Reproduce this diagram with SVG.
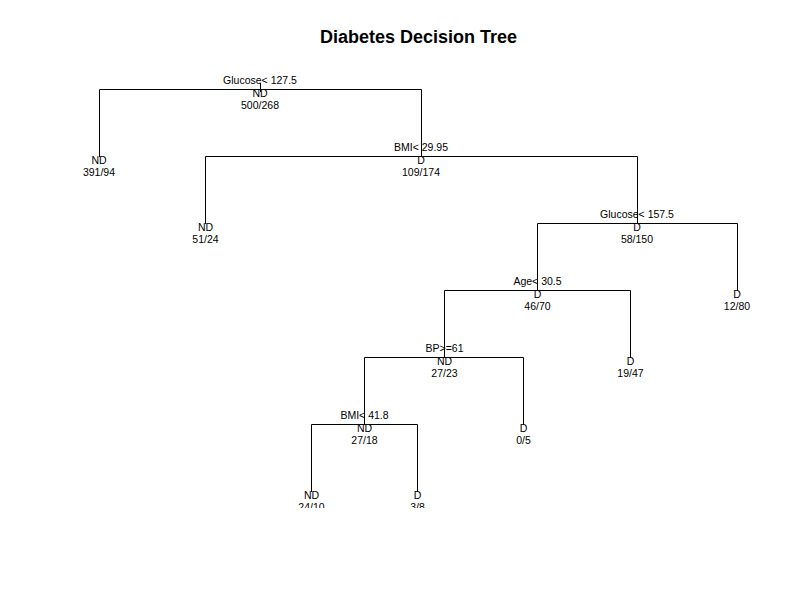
<svg xmlns="http://www.w3.org/2000/svg" width="800" height="600" viewBox="0 0 800 600">
<style>
text{font-family:"Liberation Sans",Arial,Helvetica,sans-serif;font-size:10.5px;fill:#000;text-anchor:middle}
.title{font-size:18px;font-weight:bold}
.br{fill:none;stroke:#000;stroke-width:1}
</style>
<defs><clipPath id="plot"><rect x="0" y="0" width="800" height="508"/></clipPath></defs>
<rect width="800" height="600" fill="#fff"/>
<text class="title" x="418.5" y="43">Diabetes Decision Tree</text>
<g id="connectors" class="br">
<path d="M260.5 83V92"/>
<path d="M99.5 157V89.5H421.5V157"/>
<path d="M205.5 224V156.5H637.5V224"/>
<path d="M537.5 291V223.5H737.5V291"/>
<path d="M444.5 358V290.5H630.5V358"/>
<path d="M364.5 425V357.5H523.5V425"/>
<path d="M311.5 492V424.5H417.5V492"/>
</g>
<g clip-path="url(#plot)">
<g id="n1"><text x="260" y="84">Glucose&lt; 127.5</text><text x="260" y="96.5">ND</text><text x="260" y="108.5">500/268</text></g>
<g id="n2"><text x="99" y="163.5">ND</text><text x="99" y="175.5">391/94</text></g>
<g id="n3"><text x="421" y="151">BMI&lt; 29.95</text><text x="421" y="163.5">D</text><text x="421" y="175.5">109/174</text></g>
<g id="n6"><text x="205.5" y="230.5">ND</text><text x="205.5" y="242.5">51/24</text></g>
<g id="n7"><text x="637" y="218">Glucose&lt; 157.5</text><text x="637" y="230.5">D</text><text x="637" y="242.5">58/150</text></g>
<g id="n14"><text x="537.5" y="285">Age&lt; 30.5</text><text x="537.5" y="297.5">D</text><text x="537.5" y="309.5">46/70</text></g>
<g id="n15"><text x="737" y="297.5">D</text><text x="737" y="309.5">12/80</text></g>
<g id="n28"><text x="444.5" y="352">BP&gt;=61</text><text x="444.5" y="364.5">ND</text><text x="444.5" y="376.5">27/23</text></g>
<g id="n29"><text x="630.5" y="364.5">D</text><text x="630.5" y="376.5">19/47</text></g>
<g id="n56"><text x="364.5" y="419">BMI&lt; 41.8</text><text x="364.5" y="431.5">ND</text><text x="364.5" y="443.5">27/18</text></g>
<g id="n57"><text x="523.5" y="431.5">D</text><text x="523.5" y="443.5">0/5</text></g>
<g id="n112"><text x="311.5" y="498.5">ND</text><text x="311.5" y="510.5">24/10</text></g>
<g id="n113"><text x="417.5" y="498.5">D</text><text x="417.5" y="510.5">3/8</text></g>
</g>
</svg>
